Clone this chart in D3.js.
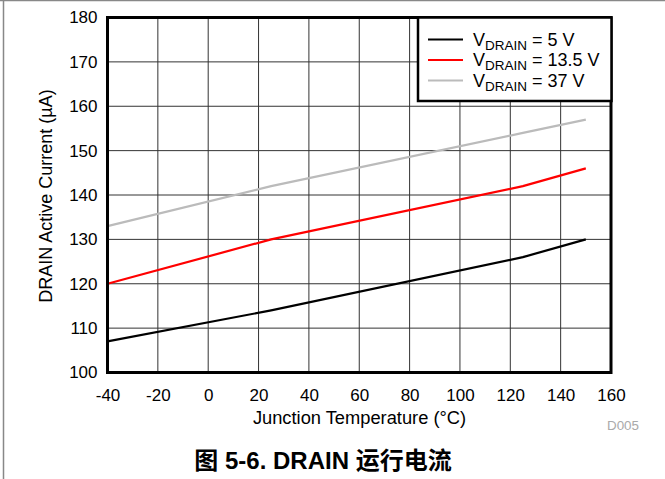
<!DOCTYPE html>
<html><head><meta charset="utf-8">
<script src="https://cdn.jsdelivr.net/npm/d3@7/dist/d3.min.js"></script>
<style>body{margin:0;background:#fff;}svg{display:block;font-family:"Liberation Sans",Arial,sans-serif;}</style>
</head><body><svg id="c" width="665" height="479"></svg>
<script>
const temps = [-40, 25, 125, 150];
const v5 = [107, 114, 126, 130];
const v13 = [120, 130, 142, 146];
const v37 = [133, 142, 154, 157];
const seriesNames = ["5 V", "13.5 V", "37 V"];
const seriesColors = ["#000000", "#ff0000", "#bbbbbb"];
const xTicks = [-40, -20, 0, 20, 40, 60, 80, 100, 120, 140, 160];
const yTicks = [100, 110, 120, 130, 140, 150, 160, 170, 180];

const svg = d3.select("#c");
const L = 107.5, R = 611, T = 17.5, B = 372.5;
const x = d3.scaleLinear().domain([-40, 160]).range([L, R]);
const y = d3.scaleLinear().domain([100, 180]).range([B, T]);

// outer frame (top + left)
svg.append("line").attr("x1", 0).attr("x2", 665).attr("y1", 0.5).attr("y2", 0.5).attr("stroke", "#888").attr("stroke-width", 1.5);
svg.append("line").attr("x1", 3.5).attr("x2", 3.5).attr("y1", 0).attr("y2", 479).attr("stroke", "#888").attr("stroke-width", 1.5);

// grid
const g = svg.append("g");
g.selectAll("line.vx").data(xTicks).enter().append("line")
  .attr("x1", d => x(d)).attr("x2", d => x(d)).attr("y1", T).attr("y2", B)
  .attr("stroke", "#333").attr("stroke-width", 1);
g.selectAll("line.hy").data(yTicks).enter().append("line")
  .attr("x1", L).attr("x2", R).attr("y1", d => y(d)).attr("y2", d => y(d))
  .attr("stroke", "#333").attr("stroke-width", 1);

// axes labels via d3 axes
const xAxis = d3.axisBottom(x).tickValues(xTicks).tickSize(0).tickPadding(16).tickFormat(d => String(d));
const ax = svg.append("g").attr("transform", `translate(0,${B})`).call(xAxis);
ax.select(".domain").remove();
ax.selectAll("text").attr("font-size", 17).attr("fill", "#000").attr("font-family", "Liberation Sans, Arial, sans-serif");
const yAxis = d3.axisLeft(y).tickValues(yTicks).tickSize(0).tickPadding(10).tickFormat(d => String(d));
const ay = svg.append("g").attr("transform", `translate(${L},0)`).call(yAxis);
ay.select(".domain").remove();
ay.selectAll("text").attr("font-size", 17).attr("fill", "#000").attr("font-family", "Liberation Sans, Arial, sans-serif");

// lines
const line = d3.line().x((d, i) => x(temps[i])).y(d => y(d));
[v5, v13, v37].forEach((s, i) => {
  svg.append("path").attr("d", line(s)).attr("fill", "none")
    .attr("stroke", seriesColors[i]).attr("stroke-width", 2.2);
});

// plot border
svg.append("rect").attr("x", L).attr("y", T).attr("width", R - L).attr("height", B - T)
  .attr("fill", "none").attr("stroke", "#000").attr("stroke-width", 3);

// legend
const lg = svg.append("g");
lg.append("rect").attr("x", 418).attr("y", 17.5).attr("width", 193.5).attr("height", 83.5)
  .attr("fill", "#fff").attr("stroke", "#000").attr("stroke-width", 2.5);
seriesNames.forEach((n, i) => {
  const yy = 39.5 + i * 20.5;
  lg.append("line").attr("x1", 428).attr("x2", 463).attr("y1", yy).attr("y2", yy)
    .attr("stroke", seriesColors[i]).attr("stroke-width", 2.2);
  const t = lg.append("text").attr("x", 473).attr("y", yy + 6).attr("font-size", 18).attr("fill", "#000");
  t.append("tspan").text("V");
  t.append("tspan").attr("font-size", 13.5).attr("dy", 4).text("DRAIN");
  t.append("tspan").attr("dy", -4).text(" = " + n);
});

// axis titles
svg.append("text").attr("x", 359.5).attr("y", 423.5).attr("text-anchor", "middle")
  .attr("font-size", 18.3).text("Junction Temperature (°C)");
svg.append("text").attr("transform", "translate(51.5,196) rotate(-90)").attr("text-anchor", "middle")
  .attr("font-size", 18).text("DRAIN Active Current (µA)");
svg.append("text").attr("x", 639).attr("y", 430).attr("text-anchor", "end")
  .attr("font-size", 13.4).attr("fill", "#aaa").text("D005");
svg.append("text").attr("x", 323).attr("y", 469).attr("text-anchor", "middle")
  .attr("font-size", 24).attr("font-weight", "bold")
  .attr("font-family", "'Liberation Sans','Noto Sans CJK SC',sans-serif").text("图 5-6. DRAIN 运行电流");
</script></body></html>
